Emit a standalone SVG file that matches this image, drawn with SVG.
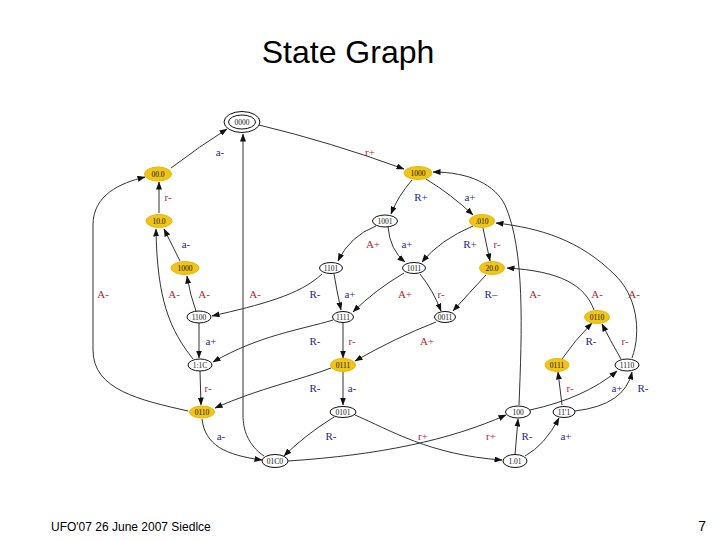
<svg xmlns="http://www.w3.org/2000/svg" width="720" height="540" viewBox="0 0 720 540">
<defs>
<marker id="ah" markerWidth="8" markerHeight="6" refX="7.5" refY="3" orient="auto" markerUnits="userSpaceOnUse">
<path d="M0,0 L8,3 L0,6 z" fill="#111"/>
</marker>
<style>
.e{fill:none;stroke:#333;stroke-width:1;marker-end:url(#ah)}
.n{fill:#fff;stroke:#111;stroke-width:1}
.y{fill:#f0c419;stroke:#e8b800;stroke-width:1}
.nt{font-family:"Liberation Serif",serif;font-size:7.5px;fill:#111;text-anchor:middle}
.lr{font-family:"Liberation Serif",serif;font-size:11px;fill:#b3282d;text-anchor:middle}
.lb{font-family:"Liberation Serif",serif;font-size:11px;fill:#1f1f8c;text-anchor:middle}
.t{font-family:"Liberation Sans",Arial,sans-serif;fill:#000}
</style>
</defs>
<rect width="720" height="540" fill="#fff"/>
<text class="t" x="348" y="63" font-size="32" text-anchor="middle">State Graph</text>
<text class="t" x="51" y="531" font-size="12">UFO'07 26 June 2007 Siedlce</text>
<text class="t" x="706" y="531" font-size="14" text-anchor="end">7</text>

<g id="connectors">
<path class="e" d="M171,168 Q200,146 227,129"/>
<path class="e" d="M259,125 Q330,142 404,169"/>
<path class="e" d="M159,213 L159,182"/>
<path class="e" d="M180,261 L164,229"/>
<path class="e" d="M188,411 C140,400 93,390 93,350 L93,225 C93,195 120,183 145,177"/>
<path class="e" d="M193,359 C170,330 157,300 156,229"/>
<path class="e" d="M196,311 Q190,295 187,276"/>
<path class="e" d="M412,180 Q398,196 391,214"/>
<path class="e" d="M426,179 Q452,195 473,215"/>
<path class="e" d="M519,405 C522,330 525,250 505,205 C495,185 470,172 433,172"/>
<path class="e" d="M632,358 C642,330 636,295 615,275 C580,240 540,228 496,223"/>
<path class="e" d="M594,310 C585,285 560,271 507,268"/>
<path class="e" d="M483,228 L490,261"/>
<path class="e" d="M376,226 Q350,236 338,261"/>
<path class="e" d="M388,227 Q390,250 405,262"/>
<path class="e" d="M473,226 Q440,240 422,262"/>
<path class="e" d="M322,274 C300,295 260,305 212,316"/>
<path class="e" d="M334,274 Q337,292 341,310"/>
<path class="e" d="M404,273 Q375,290 353,312"/>
<path class="e" d="M420,274 Q433,290 441,311"/>
<path class="e" d="M486,275 Q470,292 453,311"/>
<path class="e" d="M199,323 L199,358"/>
<path class="e" d="M333,320 C300,330 260,335 213,362"/>
<path class="e" d="M343,323 L343,358"/>
<path class="e" d="M436,322 Q395,338 355,361"/>
<path class="e" d="M331,368 C300,380 260,388 215,408"/>
<path class="e" d="M200,371 L201,405"/>
<path class="e" d="M343,372 L343,405"/>
<path class="e" d="M202,419 C205,445 225,455 262,460"/>
<path class="e" d="M334,417 Q305,435 284,456"/>
<path class="e" d="M355,415 C390,430 430,455 502,460"/>
<path class="e" d="M288,461 C380,455 450,440 506,415"/>
<path class="e" d="M515,455 L518,419"/>
<path class="e" d="M525,456 Q545,445 559,418"/>
<path class="e" d="M562,405 L558,372"/>
<path class="e" d="M530,410 Q585,398 617,371"/>
<path class="e" d="M575,411 Q625,405 632,372"/>
<path class="e" d="M562,359 Q575,340 592,323"/>
<path class="e" d="M621,359 Q610,340 602,324"/>
<path class="e" d="M264,456 C248,445 243,430 243,415 L243,134"/>
</g>

<g id="labels">
<text class="lb" x="220" y="156">a-</text>
<text class="lr" x="370" y="156">r+</text>
<text class="lr" x="168" y="201">r-</text>
<text class="lb" x="421" y="201">R+</text>
<text class="lb" x="470" y="201">a+</text>
<text class="lb" x="186" y="248">a-</text>
<text class="lr" x="373" y="248">A+</text>
<text class="lb" x="407" y="248">a+</text>
<text class="lb" x="470" y="248">R+</text>
<text class="lr" x="497" y="248">r-</text>
<text class="lr" x="103" y="298">A-</text>
<text class="lr" x="174" y="298">A-</text>
<text class="lr" x="204" y="298">A-</text>
<text class="lr" x="255" y="298">A-</text>
<text class="lb" x="315" y="298">R-</text>
<text class="lb" x="350" y="298">a+</text>
<text class="lr" x="405" y="298">A+</text>
<text class="lr" x="441" y="298">r-</text>
<text class="lb" x="491" y="298">R–</text>
<text class="lr" x="535" y="298">A-</text>
<text class="lr" x="597" y="298">A-</text>
<text class="lr" x="634" y="298">A-</text>
<text class="lb" x="211" y="345">a+</text>
<text class="lb" x="315" y="345">R-</text>
<text class="lr" x="352" y="345">r-</text>
<text class="lr" x="427" y="345">A+</text>
<text class="lb" x="591" y="345">R-</text>
<text class="lr" x="625" y="345">r-</text>
<text class="lr" x="208" y="392">r-</text>
<text class="lb" x="315" y="392">R-</text>
<text class="lb" x="352" y="392">a-</text>
<text class="lr" x="570" y="392">r-</text>
<text class="lb" x="617" y="392">a+</text>
<text class="lb" x="643" y="392">R-</text>
<text class="lb" x="221" y="440">a-</text>
<text class="lb" x="331" y="440">R-</text>
<text class="lr" x="423" y="440">r+</text>
<text class="lr" x="491" y="440">r+</text>
<text class="lb" x="527" y="440">R-</text>
<text class="lb" x="566" y="440">a+</text>
</g>

<g id="n0000"><ellipse class="n" cx="242" cy="122" rx="18" ry="10.5"/><ellipse class="n" cx="242" cy="122" rx="13.5" ry="7"/><text class="nt" x="242" y="124.5">0000</text></g>
<g id="n00_0"><ellipse class="y" cx="158" cy="174" rx="13.5" ry="7"/><text class="nt" x="158" y="176.5">00.0</text></g>
<g id="n10_0"><ellipse class="y" cx="159" cy="221" rx="13" ry="6.5"/><text class="nt" x="159" y="223.5">10.0</text></g>
<g id="n1000a"><ellipse class="y" cx="185" cy="268" rx="14" ry="6.5"/><text class="nt" x="185" y="270.5">1000</text></g>
<g id="n1000b"><ellipse class="y" cx="418" cy="173" rx="14" ry="6.5"/><text class="nt" x="418" y="175.5">1000</text></g>
<g id="n1001"><ellipse class="n" cx="385" cy="221" rx="12.5" ry="6"/><text class="nt" x="385" y="223.5">1001</text></g>
<g id="n_010"><ellipse class="y" cx="482" cy="221" rx="12.5" ry="6.5"/><text class="nt" x="482" y="223.5">.010</text></g>
<g id="n1101"><ellipse class="n" cx="331" cy="268" rx="11.5" ry="5.5"/><text class="nt" x="331" y="270.5">1101</text></g>
<g id="n1011"><ellipse class="n" cx="414" cy="268" rx="11.5" ry="5.5"/><text class="nt" x="414" y="270.5">1011</text></g>
<g id="n20_0"><ellipse class="y" cx="492" cy="268" rx="12.5" ry="6.5"/><text class="nt" x="492" y="270.5">20.0</text></g>
<g id="n1100"><ellipse class="n" cx="199" cy="317" rx="12" ry="6"/><text class="nt" x="199" y="319.5">1100</text></g>
<g id="n1111"><ellipse class="n" cx="343" cy="317" rx="10.5" ry="5.5"/><text class="nt" x="343" y="319.5">1111</text></g>
<g id="n0011"><ellipse class="n" cx="445" cy="317" rx="10.5" ry="5.5"/><text class="nt" x="445" y="319.5">0011</text></g>
<g id="n0110b"><ellipse class="y" cx="597" cy="317" rx="12.5" ry="6.5"/><text class="nt" x="597" y="319.5">0110</text></g>
<g id="n1_1C"><ellipse class="n" cx="200" cy="365" rx="12" ry="6"/><text class="nt" x="200" y="367.5">1:1C</text></g>
<g id="n0111a"><ellipse class="y" cx="343" cy="365" rx="12.5" ry="6.5"/><text class="nt" x="343" y="367.5">0111</text></g>
<g id="n0111b"><ellipse class="y" cx="557" cy="365" rx="12" ry="6.5"/><text class="nt" x="557" y="367.5">0111</text></g>
<g id="n1110"><ellipse class="n" cx="627" cy="365" rx="12" ry="6"/><text class="nt" x="627" y="367.5">1110</text></g>
<g id="n0110a"><ellipse class="y" cx="202" cy="412" rx="12.5" ry="6"/><text class="nt" x="202" y="414.5">0110</text></g>
<g id="n0101"><ellipse class="n" cx="343" cy="412" rx="13" ry="5.5"/><text class="nt" x="343" y="414.5">0101</text></g>
<g id="n100"><ellipse class="n" cx="518" cy="412" rx="12.5" ry="6"/><text class="nt" x="518" y="414.5">100</text></g>
<g id="n11_1"><ellipse class="n" cx="564" cy="412" rx="11" ry="5.5"/><text class="nt" x="564" y="414.5">11'1</text></g>
<g id="n0100"><ellipse class="n" cx="275" cy="461" rx="13" ry="6.5"/><text class="nt" x="275" y="463.5">01C0</text></g>
<g id="n1_01"><ellipse class="n" cx="515" cy="461" rx="12" ry="6.5"/><text class="nt" x="515" y="463.5">1.01</text></g>
</svg>
